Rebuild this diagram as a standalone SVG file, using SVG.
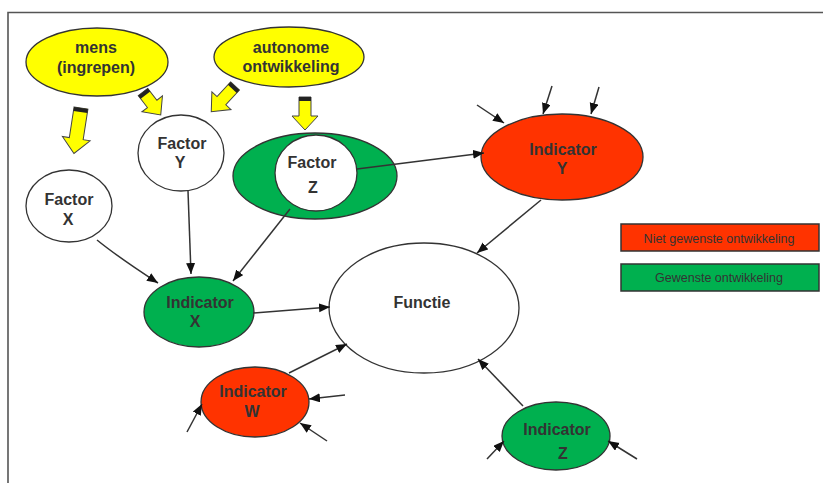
<svg xmlns="http://www.w3.org/2000/svg" width="823" height="483" viewBox="0 0 823 483">
  <style>
    .lbl { font-family: "Liberation Sans", Arial, sans-serif; font-size: 16px; font-weight: bold; fill: #333; text-anchor: middle; }
    .leg { font-family: "Liberation Sans", Arial, sans-serif; font-size: 12.5px; fill: #333; text-anchor: middle; }
    .ol { stroke: #333; stroke-width: 1.3; }
    .yel { fill: #FFFF00; }
    .red { fill: #FF3300; }
    .grn { fill: #00B04F; }
    .wht { fill: #fff; }
    .blk { fill: #FFFF00; stroke: #444; stroke-width: 1; stroke-linejoin: miter; }
    .cap { fill: #222; }
    .con { fill: none; stroke: #333; stroke-width: 1.5; marker-end: url(#ah); }
  </style>
  <defs>
    <marker id="ah" markerUnits="userSpaceOnUse" markerWidth="12" markerHeight="10" refX="11" refY="4.5" orient="auto">
      <path d="M0,0 L11,4.5 L0,9 Z" fill="#111"/>
    </marker>
  </defs>

  <rect width="823" height="483" fill="#fff"/>
  <!-- frame -->
  <path d="M8,483 V12.5 H823" fill="none" stroke="#555" stroke-width="1.6"/>

  <!-- sources -->
  <g id="mens">
    <ellipse class="yel ol" cx="97" cy="62" rx="71" ry="34"/>
    <text class="lbl" x="96" y="53">mens</text>
    <text class="lbl" x="96" y="73">(ingrepen)</text>
  </g>
  <g id="autonome">
    <ellipse class="yel ol" cx="289" cy="57" rx="75" ry="30"/>
    <text class="lbl" x="291" y="53">autonome</text>
    <text class="lbl" x="291" y="72">ontwikkeling</text>
  </g>

  <!-- block arrows -->
  <g id="push-x" transform="translate(81,108) rotate(8.8)">
    <path class="blk" d="M-7,0 H7 V31 H14 L0,46 L-14,31 H-7 Z"/>
    <rect class="cap" x="-7" y="0" width="14" height="4"/>
  </g>
  <g id="push-y1" transform="translate(143,92) rotate(-37.7)">
    <path class="blk" d="M-6,0 H6 V15 H13 L0,29 L-13,15 H-6 Z"/>
    <rect class="cap" x="-6" y="0" width="12" height="4"/>
  </g>
  <g id="push-y2" transform="translate(235,86) rotate(42.7)">
    <path class="blk" d="M-6,0 H6 V20 H13 L0,35 L-13,20 H-6 Z"/>
    <rect class="cap" x="-6" y="0" width="12" height="4"/>
  </g>
  <g id="push-z" transform="translate(305,97)">
    <path class="blk" d="M-6,0 H6 V19 H13 L0,33 L-13,19 H-6 Z"/>
    <rect class="cap" x="-6" y="0" width="12" height="4"/>
  </g>

  <!-- factors -->
  <g id="factor-x">
    <ellipse class="wht ol" cx="69" cy="206" rx="43" ry="36"/>
    <text class="lbl" x="69" y="205">Factor</text>
    <text class="lbl" x="68" y="225">X</text>
  </g>
  <g id="factor-y">
    <ellipse class="wht ol" cx="181" cy="153" rx="43" ry="38"/>
    <text class="lbl" x="182" y="149">Factor</text>
    <text class="lbl" x="180" y="168">Y</text>
  </g>
  <g id="factor-z">
    <ellipse class="grn ol" cx="315" cy="176" rx="82" ry="43"/>
    <ellipse class="wht ol" cx="316" cy="173" rx="41" ry="38"/>
    <text class="lbl" x="312" y="168">Factor</text>
    <text class="lbl" x="313" y="193">Z</text>
  </g>

  <!-- indicators -->
  <g id="indicator-y">
    <ellipse class="red ol" cx="562" cy="157" rx="81" ry="43"/>
    <text class="lbl" x="563" y="155">Indicator</text>
    <text class="lbl" x="562" y="174">Y</text>
  </g>
  <g id="indicator-x">
    <ellipse class="grn ol" cx="199" cy="312" rx="55" ry="35"/>
    <text class="lbl" x="200" y="308">Indicator</text>
    <text class="lbl" x="195" y="327">X</text>
  </g>
  <g id="indicator-w">
    <ellipse class="red ol" cx="255" cy="402" rx="54" ry="35"/>
    <text class="lbl" x="253" y="397">Indicator</text>
    <text class="lbl" x="252" y="417">W</text>
  </g>
  <g id="indicator-z">
    <ellipse class="grn ol" cx="556" cy="436" rx="54" ry="34"/>
    <text class="lbl" x="557" y="435">Indicator</text>
    <text class="lbl" x="563" y="459">Z</text>
  </g>

  <!-- function -->
  <g id="functie">
    <ellipse class="wht ol" cx="424" cy="308" rx="95" ry="65"/>
    <text class="lbl" x="422" y="308">Functie</text>
  </g>

  <!-- legend -->
  <g id="legend-niet">
    <rect class="red" x="621" y="224" width="198" height="27" stroke="#333" stroke-width="1.5"/>
    <text class="leg" x="719" y="243">Niet gewenste ontwikkeling</text>
  </g>
  <g id="legend-wel">
    <rect class="grn" x="621" y="264" width="198" height="27" stroke="#333" stroke-width="1.5"/>
    <text class="leg" x="719" y="282">Gewenste ontwikkeling</text>
  </g>

  <!-- connectors -->
  <g id="connectors">
    <path class="con" d="M97,240 Q118,257 158,283"/>
    <path class="con" d="M188,191 L191,274"/>
    <path class="con" d="M290,209 L233,281"/>
    <path class="con" d="M357,169 L484,153"/>
    <path class="con" d="M253,313 L330,307"/>
    <path class="con" d="M541,200 L477,253"/>
    <path class="con" d="M289,373 L347,344"/>
    <path class="con" d="M523,406 L478,359"/>
    <!-- loose inputs -->
    <path class="con" d="M477,105 L504,123"/>
    <path class="con" d="M552,86 L543,114"/>
    <path class="con" d="M599,87 L591,114"/>
    <path class="con" d="M187,432 L202,404"/>
    <path class="con" d="M345,395 L309,399"/>
    <path class="con" d="M327,441 L300,423"/>
    <path class="con" d="M487,459 L504,441"/>
    <path class="con" d="M637,459 L608,441"/>
  </g>
</svg>
